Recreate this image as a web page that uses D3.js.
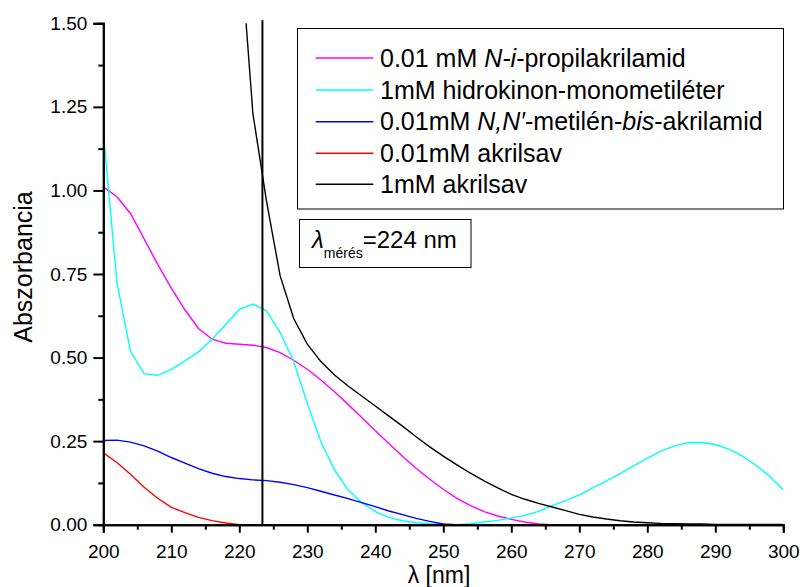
<!DOCTYPE html>
<html>
  <head>
    <meta charset="utf-8">
    <title>Abszorbancia</title>
    <style>
      body { margin: 0; background: #fff; }
      text { font-family: "Liberation Sans", Arial, sans-serif; fill: #000; }
    </style>
  </head>
  <body>
    <script src="https://d3js.org/d3.v7.min.js"></script>
    <script>

var width = 800,
    height = 587;

// wavelength [nm], sampled every 2 nm
var wavelengths = [200, 202, 204, 206, 208, 210, 212, 214, 216, 218,
  220, 222, 224, 226, 228, 230, 232, 234, 236, 238,
  240, 242, 244, 246, 248, 250, 252, 254, 256, 258,
  260, 262, 264, 266, 268, 270, 272, 274, 276, 278,
  280, 282, 284, 286, 288, 290, 292, 294, 296, 298, 300];

var propilakrilamid = [1.011, 0.981, 0.931, 0.855, 0.779, 0.708, 0.643, 0.587, 0.555, 0.543,
  0.540, 0.537, 0.530, 0.515, 0.492, 0.465, 0.433, 0.398, 0.360, 0.321,
  0.281, 0.243, 0.205, 0.169, 0.136, 0.106, 0.079, 0.057, 0.039, 0.026,
  0.016, 0.008, 0.002, 0, 0, 0, 0, 0, 0, 0,
  0, 0, 0, 0, 0, 0, 0, 0, 0, 0, 0];

var hidrokinon = [1.176, 0.725, 0.518, 0.452, 0.447, 0.465, 0.490, 0.517, 0.555, 0.599,
  0.644, 0.660, 0.640, 0.575, 0.488, 0.363, 0.248, 0.164, 0.104, 0.066,
  0.039, 0.022, 0.012, 0.006, 0.003, 0.001, 0.000, 0.003, 0.008, 0.013,
  0.020, 0.028, 0.040, 0.057, 0.072, 0.089, 0.110, 0.131, 0.153, 0.176,
  0.199, 0.220, 0.236, 0.245, 0.246, 0.240, 0.226, 0.205, 0.178, 0.145, 0.104];

var bisakrilamid = [0.252, 0.253, 0.247, 0.236, 0.220, 0.201, 0.184, 0.168, 0.154, 0.144,
  0.138, 0.134, 0.132, 0.127, 0.120, 0.111, 0.100, 0.089, 0.078, 0.066,
  0.054, 0.041, 0.030, 0.019, 0.010, 0.002, 0, 0, 0, 0,
  0, 0, 0, 0, 0, 0, 0, 0, 0, 0,
  0, 0, 0, 0, 0, 0, 0, 0, 0, 0, 0];

var akrilsavLow = [0.215, 0.186, 0.151, 0.112, 0.079, 0.052, 0.036, 0.022, 0.012, 0.005,
  0, 0, 0, 0, 0, 0, 0, 0, 0, 0,
  0, 0, 0, 0, 0, 0, 0, 0, 0, 0,
  0, 0, 0, 0, 0, 0, 0, 0, 0, 0,
  0, 0, 0, 0, 0, 0, 0, 0, 0, 0, 0];

// off scale below 220 nm
var akrilsavHigh = [null, null, null, null, null, null, null, null, null, null,
  1.77, 1.23, 0.968, 0.745, 0.617, 0.540, 0.488, 0.448, 0.415, 0.385,
  0.355, 0.325, 0.295, 0.263, 0.233, 0.205, 0.179, 0.154, 0.131, 0.110,
  0.091, 0.076, 0.064, 0.053, 0.042, 0.031, 0.023, 0.017, 0.012, 0.008,
  0.006, 0.004, 0.003, 0.002, 0.002, 0.001, 0.001, 0.001, 0.001, 0.001, 0.001];

var seriesColors = ["#ff00ff", "#00ffff", "#0000ff", "#ff0000", "#000000"];
var seriesValues = [propilakrilamid, hidrokinon, bisakrilamid, akrilsavLow, akrilsavHigh];

var measuredAt = 223.4; // vertical marker line
var xTicks = [200, 210, 220, 230, 240, 250, 260, 270, 280, 290, 300];
var xMinor = [205, 215, 225, 235, 245, 255, 265, 275, 285, 295];
var yTicks = [0, 0.25, 0.5, 0.75, 1.0, 1.25, 1.5];
var yMinor = [0.125, 0.375, 0.625, 0.875, 1.125, 1.375];

var x = d3.scaleLinear().domain([200, 300]).range([103.3, 783.3]);
var y = d3.scaleLinear().domain([0, 1.5]).range([524.7, 23.3]);

var svg = d3.select("body").append("svg")
    .attr("width", width)
    .attr("height", height);

svg.append("clipPath").attr("id", "plot")
  .append("rect")
    .attr("x", x(200)).attr("y", y(1.5))
    .attr("width", x(300) - x(200)).attr("height", y(0) - y(1.5));

var line = d3.line()
    .defined(function (d) { return d[1] != null; })
    .x(function (d) { return x(d[0]); })
    .y(function (d) { return y(d[1]); });

svg.append("g").attr("clip-path", "url(#plot)")
  .selectAll("path")
  .data(seriesValues)
  .enter().append("path")
    .attr("fill", "none")
    .attr("stroke", function (d, i) { return seriesColors[i]; })
    .attr("stroke-width", 1.4)
    .attr("d", function (vals) {
      return line(wavelengths.map(function (w, j) { return [w, vals[j]]; }));
    });

// measuring wavelength marker
svg.append("line")
    .attr("x1", x(measuredAt)).attr("x2", x(measuredAt))
    .attr("y1", y(1.5) - 3).attr("y2", y(0))
    .attr("stroke", "#000").attr("stroke-width", 2);

// axes
var xAxis = svg.append("g")
    .attr("transform", "translate(0," + y(0) + ")")
    .call(d3.axisBottom(x).tickValues(xTicks).tickSize(8).tickPadding(10).tickFormat(d3.format("d")));
svg.append("g")
    .attr("transform", "translate(0," + y(0) + ")")
    .call(d3.axisBottom(x).tickValues(xMinor).tickSize(5).tickFormat(""));

svg.append("g")
    .attr("transform", "translate(" + x(200) + ",0)")
    .call(d3.axisLeft(y).tickValues(yTicks).tickSize(10).tickPadding(6).tickFormat(d3.format(".2f")));
svg.append("g")
    .attr("transform", "translate(" + x(200) + ",0)")
    .call(d3.axisLeft(y).tickValues(yMinor).tickSize(5).tickFormat(""));

svg.selectAll(".domain").attr("stroke", "#000").attr("stroke-width", 2);
svg.selectAll(".tick line").attr("stroke", "#000").attr("stroke-width", 2);
svg.selectAll(".tick text")
    .style("font-family", "'Liberation Sans', Arial, sans-serif")
    .style("font-size", "19px")
    .attr("fill", "#000");
xAxis.selectAll(".tick text").attr("dy", "0.82em");

// axis titles
svg.append("text")
    .attr("x", 439).attr("y", 583)
    .attr("text-anchor", "middle")
    .style("font-size", "23px")
    .text("λ [nm]");

svg.append("text")
    .attr("transform", "translate(31.5,267) rotate(-90)")
    .attr("text-anchor", "middle")
    .style("font-size", "25px")
    .text("Abszorbancia");

// legend
var legend = svg.append("g");
legend.append("rect")
    .attr("x", 297.5).attr("y", 28.5)
    .attr("width", 486).attr("height", 180.5)
    .attr("fill", "#fff").attr("stroke", "#000").attr("stroke-width", 1);

var legendRows = [58, 90, 121.7, 153.3, 184.3];
var legendLabels = [
  [["0.01 mM ", false], ["N-i", true], ["-propilakrilamid", false]],
  [["1mM hidrokinon-monometiléter", false]],
  [["0.01mM ", false], ["N,N′", true], ["-metilén-", false], ["bis", true], ["-akrilamid", false]],
  [["0.01mM akrilsav", false]],
  [["1mM akrilsav", false]]
];

legendRows.forEach(function (ly, i) {
  legend.append("line")
      .attr("x1", 315.7).attr("x2", 373.3)
      .attr("y1", ly).attr("y2", ly)
      .attr("stroke", seriesColors[i]).attr("stroke-width", 1.4);
  var t = legend.append("text")
      .attr("x", 380).attr("y", ly + 8.7)
      .style("font-size", "25px");
  legendLabels[i].forEach(function (part) {
    t.append("tspan")
        .style("font-style", part[1] ? "italic" : "normal")
        .text(part[0]);
  });
});

// measuring wavelength box
svg.append("rect")
    .attr("x", 299.5).attr("y", 219.5)
    .attr("width", 171.5).attr("height", 48)
    .attr("fill", "#fff").attr("stroke", "#000").attr("stroke-width", 1);

var lam = svg.append("text").attr("x", 312).attr("y", 248.3).style("font-size", "24px");
lam.append("tspan").style("font-style", "italic").text("λ");
lam.append("tspan").attr("dy", 9.5).style("font-size", "14px").text("mérés");
lam.append("tspan").attr("dy", -9.5).text("=224 nm");

    </script>
  </body>
</html>
